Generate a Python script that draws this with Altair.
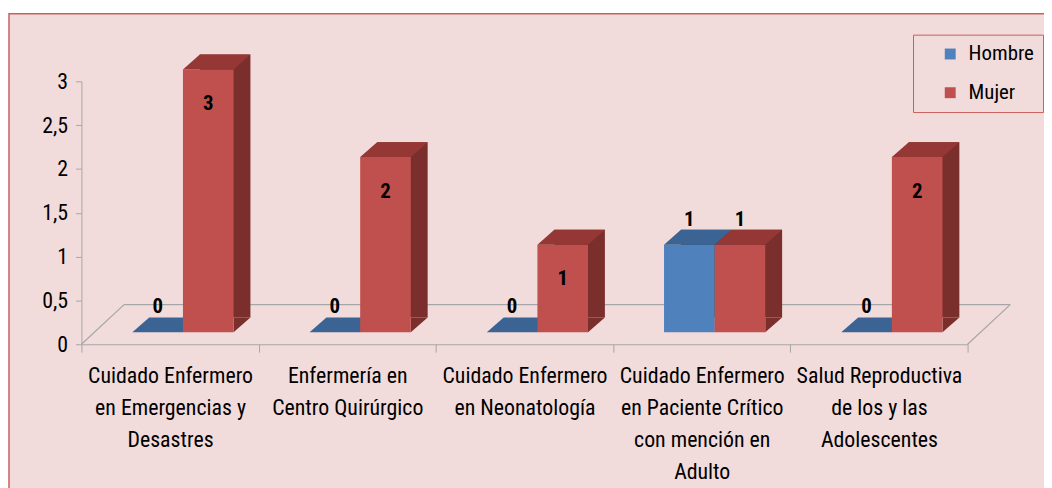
import altair as alt
import pandas as pd

categories = [
    "Cuidado Enfermero|en Emergencias y|Desastres",
    "Enfermería en|Centro Quirúrgico",
    "Cuidado Enfermero|en Neonatología",
    "Cuidado Enfermero|en Paciente Crítico|con mención en|Adulto",
    "Salud Reproductiva|de los y las|Adolescentes",
]
series = ["Hombre", "Mujer"]
hombre = [0, 0, 0, 1, 0]
mujer = [3, 2, 1, 1, 2]
y_ticks = [0, 0.5, 1, 1.5, 2, 2.5, 3]

rows = []
for i, c in enumerate(categories):
    rows.append({"cat": c, "ser": "Hombre", "value": hombre[i], "zero": 0})
    rows.append({"cat": c, "ser": "Mujer", "value": mujer[i], "zero": 0})
df = pd.DataFrame(rows)

FONT = "Liberation Sans Narrow, Roboto Condensed, DejaVu Sans Condensed, sans-serif"
PINK = "#F2DCDB"
BORDER = "#C9605D"
GRAY = "#A6A6A6"
front_colors = ["#4F81BD", "#C0504D"]
top_colors = {"Hombre": "#3B6393", "Mujer": "#953735"}
side_colors = {"Hombre": "#2E4B70", "Mujer": "#7B2F2D"}
series_dx = {"Hombre": -25.5, "Mujer": 25.5}

TOP_PATH = "M -1 0.2206 L 0.5 0.2206 L 1 -0.2206 L -0.5 -0.2206 Z"
TRI_PATH = "M -0.5 0.441 L -0.5 -0.441 L 0.5 -0.441 Z"

W, H = 893, 265
BAR_W = 51
SHIFT_X, SHIFT_Y = 13, -12

x_enc = alt.X(
    "cat:N", sort=categories, title=None,
    scale=alt.Scale(paddingInner=0, paddingOuter=0),
    axis=alt.Axis(
        labelExpr="split(datum.label, '|')", labelAngle=0, labelFont=FONT,
        labelFontSize=22, labelLineHeight=32, labelColor="#000000",
        labelLimit=400, tickBand="extent", tickSize=8, tickColor=GRAY,
        domainColor=GRAY, labelPadding=14, zindex=1, grid=False,
    ),
)
y_axis = alt.Axis(
    values=y_ticks, labelExpr="replace(format(datum.value, '~g'), '.', ',')",
    labelFont=FONT, labelFontSize=22, labelColor="#000000", tickSize=6,
    tickColor=GRAY, domainColor=GRAY, labelPadding=8, grid=False, zindex=1,
)
y_scale = alt.Scale(domain=[0, 3], nice=False, zero=True)

base = alt.Chart(df).encode(
    x=x_enc,
    y=alt.Y("value:Q", scale=y_scale, axis=y_axis, title=None),
)

one = alt.Data(values=[{"a": 1}])
bg = alt.Chart(one).mark_rect(fill=PINK, stroke=BORDER, strokeWidth=1.5).encode(
    x=alt.value(-73), x2=alt.value(1300), y=alt.value(-68), y2=alt.value(800))
back = alt.Chart(one).mark_rule(color=GRAY, strokeWidth=1.2).encode(
    x=alt.value(43), x2=alt.value(936), y=alt.value(225), y2=alt.value(225))
left = alt.Chart(one).mark_rule(color=GRAY, strokeWidth=1.2).encode(
    x=alt.value(0), x2=alt.value(43), y=alt.value(265), y2=alt.value(225))
right = alt.Chart(one).mark_rule(color=GRAY, strokeWidth=1.2).encode(
    x=alt.value(W), x2=alt.value(936), y=alt.value(265), y2=alt.value(225))

layers = [bg, back, left, right]
for s in series:
    dx = series_dx[s] + SHIFT_X
    b = base.transform_filter(alt.datum.ser == s)
    side = b.mark_bar(color=side_colors[s], width=BAR_W, xOffset=dx + 17,
                      yOffset=SHIFT_Y - 15, y2Offset=SHIFT_Y - 15)
    tri = b.transform_filter(alt.datum.value > 0).mark_point(
        shape=TRI_PATH, size=1156, filled=True, opacity=1, strokeWidth=0,
        color=side_colors[s], xOffset=dx + 34, yOffset=SHIFT_Y - 7.5,
    ).encode(y=alt.Y("zero:Q", scale=y_scale, axis=y_axis, title=None))
    front = b.mark_bar(width=BAR_W, xOffset=dx, yOffset=SHIFT_Y,
                       y2Offset=SHIFT_Y).encode(
        color=alt.Color("ser:N", scale=alt.Scale(domain=series, range=front_colors),
                        legend=alt.Legend(
                            orient="none", legendX=838, legendY=-47, title=None,
                            direction="vertical", symbolType="square", symbolSize=121,
                            symbolStrokeWidth=0, labelFont=FONT, labelFontSize=21,
                            labelColor="#000000", padding=9, rowPadding=17,
                            symbolOffset=18, labelOffset=8, strokeColor=BORDER,
                            fillColor=PINK,
                        ))
    )
    top = b.mark_point(shape=TOP_PATH, size=4624, filled=True, opacity=1, strokeWidth=0,
                       color=top_colors[s], xOffset=dx + 8.5, yOffset=SHIFT_Y - 7.5)
    layers += [side, tri, front, top]

lab = base.transform_joinaggregate(vmin="min(value)", groupby=["cat"])
for s in series:
    dx = series_dx[s] + SHIFT_X
    ls = lab.transform_filter(alt.datum.ser == s)
    inside = ls.transform_filter("datum.value > 0 && datum.vmin == 0").mark_text(
        font=FONT, fontWeight="bold", fontSize=21, baseline="middle", color="#000000",
        xOffset=dx, yOffset=SHIFT_Y + 35).encode(text="value:Q")
    above = ls.transform_filter("!(datum.value > 0 && datum.vmin == 0)").mark_text(
        font=FONT, fontWeight="bold", fontSize=21, baseline="middle", color="#000000",
        xOffset=dx, yOffset=SHIFT_Y - 25).encode(text="value:Q")
    layers += [inside, above]

chart = alt.layer(*layers).properties(
    width=W, height=H,
    autosize=alt.AutoSizeParams(type="none"),
    padding={"left": 74, "top": 72, "right": 77, "bottom": 143},
    background="#FFFFFF",
).configure_view(strokeWidth=0)

chart.save("out.html", embed_options={"renderer": "svg", "actions": False})
